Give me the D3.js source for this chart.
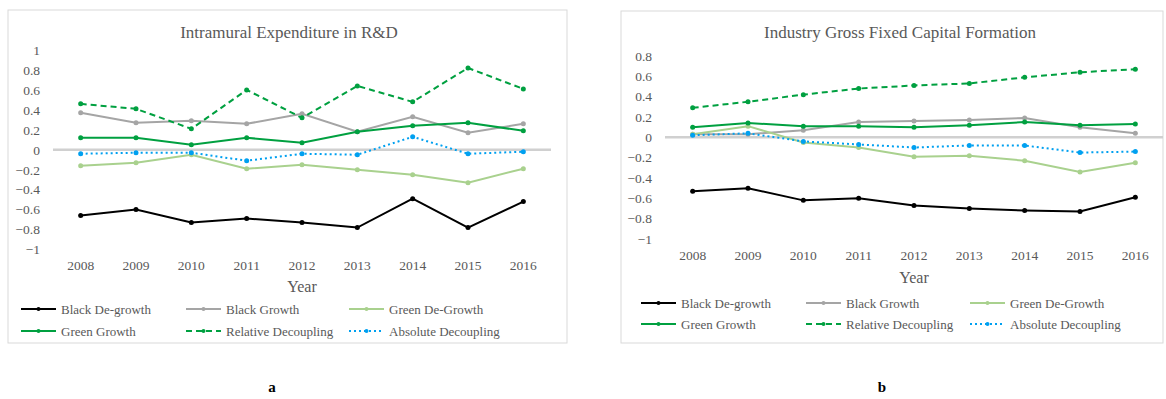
<!DOCTYPE html>
<html>
<head>
<meta charset="utf-8">
<script src="https://cdn.jsdelivr.net/npm/d3@7"></script>
<style>
    body { margin: 0; background: #fff; }
    svg text { font-family: "Liberation Serif", "Times New Roman", serif !important; }
</style>
</head>
<body>
<svg id="chart" width="1166" height="399"></svg>
<script>
// Categories
const years = ["2008", "2009", "2010", "2011", "2012", "2013", "2014", "2015", "2016"];

// Series names (legend order)
const seriesNames = ["Black De-growth", "Black Growth", "Green De-Growth",
                     "Green Growth", "Relative Decoupling", "Absolute Decoupling"];

// Panel a: Intramural Expenditure in R&D
const rdBlackDegrowth   = [-0.66, -0.60, -0.73, -0.69, -0.73, -0.78, -0.49, -0.78, -0.52];
const rdBlackGrowth     = [0.37, 0.27, 0.29, 0.26, 0.36, 0.18, 0.33, 0.17, 0.26];
const rdGreenDegrowth   = [-0.16, -0.13, -0.05, -0.19, -0.15, -0.20, -0.25, -0.33, -0.19];
const rdGreenGrowth     = [0.12, 0.12, 0.05, 0.12, 0.07, 0.18, 0.24, 0.27, 0.19];
const rdRelative        = [0.46, 0.41, 0.21, 0.60, 0.32, 0.64, 0.48, 0.82, 0.61];
const rdAbsolute        = [-0.04, -0.03, -0.03, -0.11, -0.04, -0.05, 0.13, -0.04, -0.02];
const rdTicks = [1, 0.8, 0.6, 0.4, 0.2, 0, -0.2, -0.4, -0.6, -0.8, -1];

// Panel b: Industry Gross Fixed Capital Formation
const gfBlackDegrowth   = [-0.53, -0.50, -0.62, -0.60, -0.67, -0.70, -0.72, -0.73, -0.59];
const gfBlackGrowth     = [0.03, 0.03, 0.07, 0.15, 0.16, 0.17, 0.19, 0.10, 0.04];
const gfGreenDegrowth   = [0.03, 0.11, -0.05, -0.10, -0.19, -0.18, -0.23, -0.34, -0.25];
const gfGreenGrowth     = [0.10, 0.14, 0.11, 0.11, 0.10, 0.12, 0.15, 0.12, 0.13];
const gfRelative        = [0.29, 0.35, 0.42, 0.48, 0.51, 0.53, 0.59, 0.64, 0.67];
const gfAbsolute        = [0.02, 0.04, -0.04, -0.07, -0.10, -0.08, -0.08, -0.15, -0.14];
const gfTicks = [0.8, 0.6, 0.4, 0.2, 0, -0.2, -0.4, -0.6, -0.8, -1];

// Estilos das séries
const styles = [
    { color: "#000000", dash: null },
    { color: "#a5a5a5", dash: null },
    { color: "#a9d18e", dash: null },
    { color: "#00a040", dash: null },
    { color: "#00a040", dash: "6,4" },
    { color: "#00a0f0", dash: "2,3" }
];

const textColor = "#595959";
const svg = d3.select("#chart");

function drawPanel(p) {
    const g = svg.append("g");

    // Moldura
    g.append("rect")
        .attr("x", p.box.x).attr("y", p.box.y)
        .attr("width", p.box.w).attr("height", p.box.h)
        .attr("fill", "#fff").attr("stroke", "#d9d9d9").attr("stroke-width", 1);

    // Título
    g.append("text")
        .attr("x", p.titleX).attr("y", 38)
        .attr("text-anchor", "middle")
        .attr("font-size", 17)
        .attr("fill", textColor)
        .text(p.title);

    const x = d3.scaleBand().domain(years).range([p.left, p.right]);
    const y = d3.scaleLinear().domain([p.ymin, p.ymax]).range([p.bottom, p.top]);

    // Eixo Y
    const yAxis = g.append("g")
        .attr("transform", `translate(${p.left - 13},0)`)
        .call(d3.axisLeft(y).tickValues(p.ticks).tickSize(0).tickFormat(d => d3.format("")(+d.toFixed(1))));
    yAxis.select(".domain").remove();
    yAxis.selectAll("text")
        .attr("font-size", 13.5)
        .attr("fill", textColor)
        .attr("x", 0);

    // Linha do zero
    g.append("line")
        .attr("x1", p.left).attr("x2", p.right)
        .attr("y1", y(0)).attr("y2", y(0))
        .attr("stroke", "#d0d0d0").attr("stroke-width", 2.5);

    // Eixo X
    const xAxis = g.append("g")
        .attr("transform", `translate(0,${p.xLabelY})`)
        .call(d3.axisBottom(x).tickSize(0));
    xAxis.select(".domain").remove();
    xAxis.selectAll("text")
        .attr("font-size", 13.5)
        .attr("fill", textColor)
        .attr("dy", "0.32em")
        .attr("y", 0);

    g.append("text")
        .attr("x", x("2012") + x.bandwidth() / 2).attr("y", p.yearY)
        .attr("text-anchor", "middle").attr("dy", "0.35em")
        .attr("font-size", 16).attr("fill", textColor)
        .text("Year");

    // Linhas
    const line = d3.line()
        .x((d, i) => x(years[i]) + x.bandwidth() / 2)
        .y(d => y(d));

    p.series.forEach((vals, k) => {
        const s = styles[k];
        g.append("path")
            .datum(vals)
            .attr("fill", "none")
            .attr("stroke", s.color)
            .attr("stroke-width", 2)
            .attr("stroke-dasharray", s.dash)
            .attr("d", line);
        g.append("g").selectAll("circle")
            .data(vals)
            .enter().append("circle")
            .attr("cx", (d, i) => x(years[i]) + x.bandwidth() / 2)
            .attr("cy", d => y(d))
            .attr("r", 2.5)
            .attr("fill", s.color);
    });

    // Legenda
    seriesNames.forEach((name, k) => {
        const s = styles[k];
        const lx = p.legendX[k % 3];
        const ly = p.legendY[Math.floor(k / 3)];
        g.append("line")
            .attr("x1", lx).attr("x2", lx + 35)
            .attr("y1", ly).attr("y2", ly)
            .attr("stroke", s.color).attr("stroke-width", 2)
            .attr("stroke-dasharray", s.dash);
        g.append("circle")
            .attr("cx", lx + 17.5).attr("cy", ly).attr("r", 2)
            .attr("fill", s.color);
        g.append("text")
            .attr("x", lx + 40).attr("y", ly)
            .attr("dy", "0.35em")
            .attr("font-size", 13).attr("fill", textColor)
            .text(name);
    });

    // Rótulo do painel
    svg.append("text")
        .attr("x", p.tagX).attr("y", 392)
        .attr("text-anchor", "middle")
        .attr("font-size", 15).attr("font-weight", "bold")
        .attr("fill", "#000")
        .text(p.tag);
}

drawPanel({
    box: { x: 8, y: 10, w: 559, h: 333 },
    title: "Intramural Expenditure in R&D",
    titleX: 289,
    left: 53, right: 551, top: 50, bottom: 249.5,
    ymin: -1, ymax: 1, ticks: rdTicks,
    xLabelY: 266, yearY: 286,
    series: [rdBlackDegrowth, rdBlackGrowth, rdGreenDegrowth, rdGreenGrowth, rdRelative, rdAbsolute],
    legendX: [21, 186, 349],
    legendY: [309, 331],
    tag: "a", tagX: 272
});

drawPanel({
    box: { x: 621, y: 11, w: 542, h: 332 },
    title: "Industry Gross Fixed Capital Formation",
    titleX: 900,
    left: 665, right: 1163, top: 56, bottom: 239,
    ymin: -1, ymax: 0.8, ticks: gfTicks,
    xLabelY: 256, yearY: 277,
    series: [gfBlackDegrowth, gfBlackGrowth, gfGreenDegrowth, gfGreenGrowth, gfRelative, gfAbsolute],
    legendX: [641, 806, 970],
    legendY: [303, 324],
    tag: "b", tagX: 882
});
</script>
</body>
</html>
